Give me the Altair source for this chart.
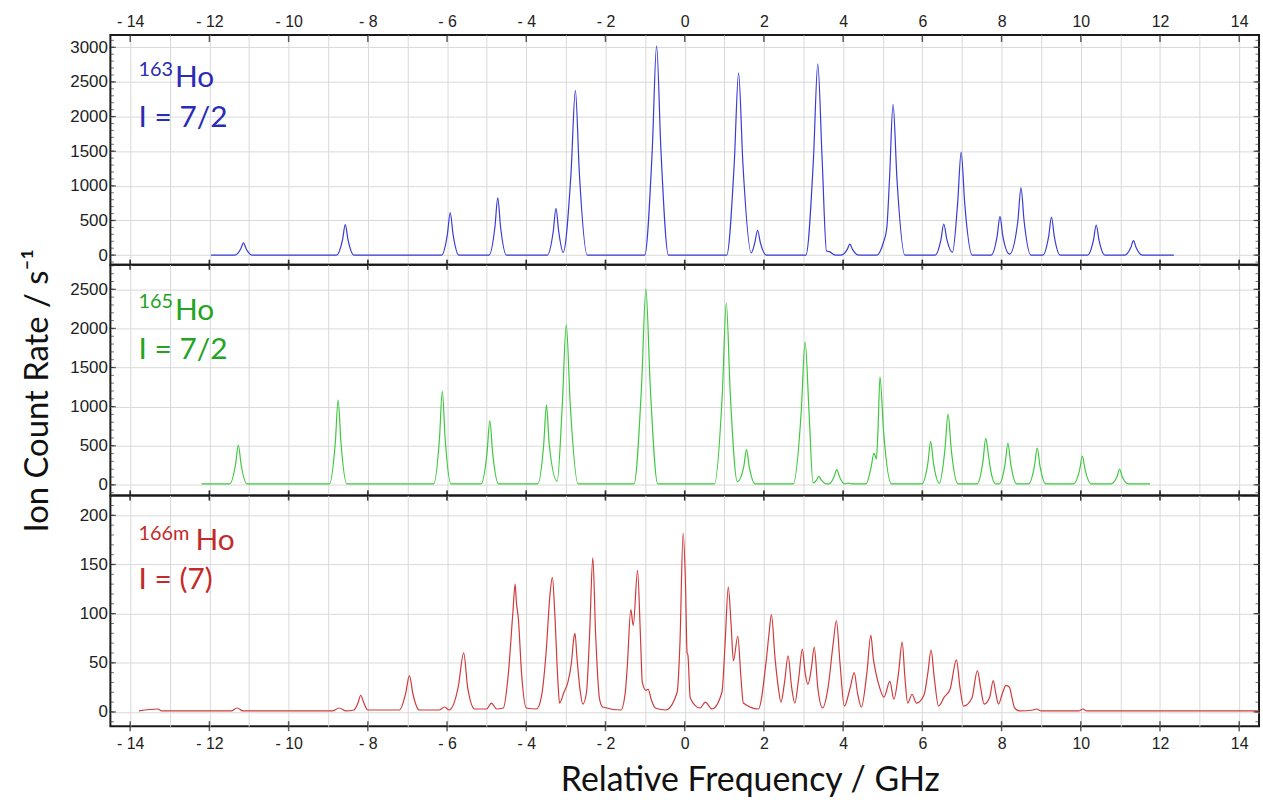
import altair as alt
import pandas as pd

# ---------------- data ----------------
# 163Ho trace vertices (GHz, ions/s)
x163 = [-11.96,
        -11.36, -11.21, -11.14, -11.07, -10.92,
        -8.79, -8.64, -8.57, -8.50, -8.35,
        -6.14, -5.99, -5.92, -5.85, -5.70,
        -4.94, -4.79, -4.72, -4.65, -4.50,
        -3.47, -3.32, -3.25, -3.18, -3.07, -2.87, -2.76, -2.66, -2.46,
        -1.01, -0.82, -0.71, -0.60, -0.41,
        1.06, 1.25, 1.36, 1.47, 1.68, 1.77, 1.84, 1.91, 2.06,
        3.06, 3.25, 3.36, 3.47, 3.58, 3.65, 3.80,
        3.95, 4.10, 4.17, 4.24, 4.39,
        4.85, 5.02, 5.10, 5.17, 5.26, 5.36, 5.56,
        6.32, 6.47, 6.54, 6.62, 6.76, 6.89, 6.98, 7.07, 7.26,
        7.74, 7.89, 7.96, 8.03, 8.20, 8.41, 8.49, 8.57, 8.74,
        9.04, 9.19, 9.26, 9.33, 9.48,
        10.17, 10.32, 10.39, 10.46, 10.61,
        11.11, 11.26, 11.33, 11.40, 11.55,
        12.35]
y163 = [0,
        0, 88, 177, 88, 0,
        0, 220, 440, 220, 0,
        0, 308, 615, 308, 0,
        0, 413, 826, 413, 0,
        0, 337, 674, 337, 40, 1188, 2377, 1188, 0,
        0, 1511, 3022, 1511, 0,
        0, 1315, 2630, 1315, 33, 180, 359, 180, 0,
        0, 1380, 2760, 1380, 60, 50, 0,
        0, 79, 158, 79, 0,
        0, 190, 380, 1088, 2175, 1088, 0,
        0, 225, 449, 225, 40, 744, 1487, 744, 0,
        0, 280, 560, 280, 15, 485, 970, 485, 0,
        0, 275, 550, 275, 0,
        0, 218, 435, 218, 0,
        0, 105, 210, 105, 0,
        0]

# 165Ho trace vertices
x165 = [-12.20,
        -11.49, -11.34, -11.27, -11.20, -11.05,
        -8.97, -8.82, -8.75, -8.68, -8.53,
        -6.34, -6.19, -6.12, -6.05, -5.90,
        -5.14, -4.99, -4.92, -4.85, -4.70,
        -3.71, -3.56, -3.49, -3.42, -3.22, -3.09, -2.99, -2.89, -2.69,
        -1.28, -1.09, -0.98, -0.87, -0.68,
        0.75, 0.95, 1.05, 1.15, 1.33, 1.49, 1.56, 1.63, 1.78,
        2.74, 2.94, 3.04, 3.14, 3.24, 3.33, 3.38, 3.45, 3.58,
        3.64, 3.77, 3.84, 3.91, 4.04, 4.13, 4.22,
        4.58, 4.70, 4.78, 4.84, 4.88, 4.93, 5.02, 5.22,
        5.99, 6.14, 6.21, 6.28, 6.43, 6.57, 6.65, 6.73, 6.90,
        7.38, 7.53, 7.60, 7.66, 7.72, 7.85,
        7.94, 8.09, 8.16, 8.23, 8.38,
        8.68, 8.83, 8.90, 8.97, 9.12,
        9.82, 9.97, 10.04, 10.11, 10.26,
        10.76, 10.91, 10.98, 11.05, 11.20,
        11.75]
y165 = [12,
        12, 260, 509, 260, 12,
        12, 550, 1085, 550, 12,
        12, 606, 1200, 606, 12,
        12, 415, 818, 415, 12,
        12, 515, 1018, 515, 45, 1030, 2048, 1030, 12,
        12, 1260, 2506, 1260, 12,
        12, 1170, 2323, 1170, 40, 230, 449, 230, 12,
        12, 920, 1827, 920, 25, 60, 110, 60, 12,
        12, 100, 195, 100, 12, 22, 12,
        12, 210, 402, 330, 700, 1381, 690, 12,
        12, 280, 555, 280, 20, 450, 903, 450, 12,
        12, 300, 593, 415, 200, 12,
        12, 270, 534, 270, 12,
        12, 240, 470, 240, 12,
        12, 190, 369, 190, 12,
        12, 100, 199, 100, 12,
        12]

# 166mHo trace vertices
x166 = [-13.78, -13.30, -13.20, -11.45, -11.30, -11.15, -8.90, -8.72, -8.55,
        -8.35, -8.25, -8.18, -8.10, -8.00,
        -7.20, -7.05, -6.95, -6.86, -6.70,
        -6.20, -6.06, -5.95, -5.72, -5.58, -5.48, -5.30,
        -5.00, -4.88, -4.75,
        -4.58, -4.45, -4.34, -4.28, -4.25, -4.20, -4.12, -4.00,
        -3.74, -3.62, -3.50, -3.40, -3.34, -3.28, -3.20, -3.16,
        -3.05, -2.95, -2.86, -2.80, -2.77, -2.72, -2.65, -2.57,
        -2.48, -2.40, -2.32, -2.25, -2.15, -2.07,
        -1.61, -1.50, -1.45, -1.36, -1.30, -1.19, -1.12, -1.07, -0.98, -0.92, -0.84, -0.74,
        -0.48, -0.19, -0.12, -0.04, 0.02, 0.06, 0.08, 0.14,
        0.39, 0.52, 0.69,
        0.94, 1.02, 1.10, 1.17, 1.23, 1.34, 1.42, 1.48,
        1.86, 2.06, 2.13, 2.19, 2.28, 2.36, 2.43,
        2.52, 2.61, 2.70, 2.78, 2.88, 2.97, 3.04, 3.11, 3.20, 3.27, 3.36, 3.48,
        3.62, 3.75, 3.83, 3.92, 4.03,
        4.18, 4.28, 4.36, 4.46,
        4.60, 4.70, 4.76, 4.82, 4.92, 5.03,
        5.18, 5.28, 5.40, 5.49, 5.56, 5.63, 5.74, 5.85,
        6.04, 6.14, 6.22, 6.30, 6.41,
        6.55, 6.70, 6.86, 6.95, 7.04,
        7.25, 7.39, 7.47, 7.56,
        7.70, 7.79, 7.85, 7.92,
        8.03, 8.11, 8.20, 8.26, 8.33, 8.46,
        8.80, 8.88, 9.00, 9.95, 10.05, 10.15, 14.50]
y166 = [1, 3, 1, 1, 4, 1, 1, 4, 1,
        2, 9, 17, 9, 2,
        2, 18, 37, 18, 2,
        2, 5, 2, 25, 60, 25, 3,
        3, 9, 3,
        4, 40, 100, 130, 112, 95, 40, 4,
        3, 15, 60, 120, 137, 100, 30, 9,
        20, 30, 50, 75, 80, 55, 25, 8,
        20, 80, 157, 80, 13, 5,
        2, 20, 46, 104, 88, 144, 80, 30, 22, 23, 12, 4,
        2, 20, 70, 182, 130, 60, 58, 14,
        4, 10, 3,
        20, 70, 127, 90, 52, 77, 35, 9,
        3, 53, 80, 99, 55, 26, 10,
        30, 57, 25, 9, 35, 64, 40, 28, 45, 66, 25, 4,
        25, 70, 93, 50, 6,
        25, 40, 20, 5,
        40, 78, 55, 41, 25, 15,
        31, 13, 40, 71, 35, 9, 18, 9,
        17, 40, 63, 35, 6,
        15, 23, 53, 25, 6,
        14, 42, 25, 8,
        15, 32, 20, 8,
        20, 27, 25, 15, 4, 1,
        2, 3, 1, 1, 3, 1, 1]

# axis values / tick labels
x_grid = list(range(-14, 15))
x_major = list(range(-14, 15, 2))
y163_major = [0, 500, 1000, 1500, 2000, 2500, 3000]
y165_major = [0, 500, 1000, 1500, 2000, 2500]
y166_major = [0, 50, 100, 150, 200]
y163_minor = list(range(-100, 3101, 100))
y165_minor = list(range(-100, 2801, 100))
y166_minor = list(range(-10, 221, 10))

# annotation texts: (text, GHz, count, font size)
ann163 = [("163", -13.79, 2592, 20), ("Ho", -12.87, 2430, 30), ("I = 7/2", -13.79, 1851, 30)]
ann165 = [("165", -13.79, 2259, 20), ("Ho", -12.87, 2112, 30), ("I = 7/2", -13.79, 1603, 30)]
ann166 = [("166m", -13.79, 175.4, 20), ("Ho", -12.35, 164.6, 30), ("I = (7)", -13.79, 124.8, 30)]

assert len(x163) == len(y163) and len(x165) == len(y165) and len(x166) == len(y166)

# ---------------- chart ----------------
W = 1155
XDOM = [-14.5, 14.5]
LABEL_EXPR = ("datum.value % 2 != 0 ? '' : (datum.value < 0 ? '- ' + abs(datum.value) : '' + datum.value)")
TICK_COLOR = "#1e1e1e"


def make_x(orient, title=None):
    scale = alt.Scale(domain=XDOM, nice=False, zero=False)
    if orient is None:
        axis = alt.Axis(values=x_grid, labels=False, ticks=False, domain=False,
                        grid=True, title=None)
    else:
        kw = dict(orient=orient, values=x_grid, labelExpr=LABEL_EXPR, labelOverlap=False,
                  ticks=False, domain=False, grid=True, labelFontSize=16,
                  labelPadding=9 if orient == "bottom" else 6)
        if title:
            kw.update(title=title, titleFontSize=34, titleFont="Lato",
                      titleFontWeight="normal", titleColor="#111",
                      titleX=643, titleY=65, titleAlign="center",
                      titleBaseline="alphabetic")
        else:
            kw.update(title=None)
        axis = alt.Axis(**kw)
    return alt.X("f:Q", scale=scale, axis=axis)


def make_y(dom, major, title=None):
    kw = dict(values=major, grid=True, ticks=False, domain=False, labelFontSize=17,
              labelPadding=3, format="d")
    if title:
        kw.update(title=title, titleFontSize=33, titlePadding=15, titleFont="Lato",
                  titleFontWeight="normal", titleColor="#111", titleY=126,
                  titleAlign="center")
    else:
        kw.update(title=None)
    return alt.Y("v:Q", scale=alt.Scale(domain=dom, nice=False, zero=False),
                 axis=alt.Axis(**kw))


def panel(xs, ys, line_color, text_color, ydom, major, minor, ann, height,
          x_orient, x_title=None, y_title=None, top_edge="cross"):
    X = make_x(x_orient, x_title)
    Y = make_y(ydom, major, y_title)
    df = pd.DataFrame({"f": xs, "v": ys})
    layers = [alt.Chart(df).mark_line(color=line_color, strokeWidth=1.2,
                                      interpolate="monotone").encode(x=X, y=Y)]
    for t, f, v, size in ann:
        layers.append(
            alt.Chart(pd.DataFrame({"f": [f], "v": [v], "t": [t]}))
            .mark_text(align="left", baseline="alphabetic", font="Lato",
                       fontSize=size, color=text_color)
            .encode(x=X, y=Y, text="t:N"))
    xt = pd.DataFrame({"f": x_major})
    # x ticks on top edge
    if top_edge == "inside":
        layers.append(alt.Chart(xt).mark_tick(orient="vertical", size=7, thickness=1.5,
                                              color=TICK_COLOR)
                      .encode(x=X, y=alt.value(3.5)))
    else:
        layers.append(alt.Chart(xt).mark_tick(orient="vertical", size=10, thickness=1.5,
                                              color=TICK_COLOR)
                      .encode(x=X, y=alt.value(0)))
    layers.append(alt.Chart(xt).mark_tick(orient="vertical", size=10, thickness=1.5,
                                          color=TICK_COLOR)
                  .encode(x=X, y=alt.value(height)))
    # y ticks (inside, left and right)
    ymin_df = pd.DataFrame({"v": minor})
    ymaj_df = pd.DataFrame({"v": major})
    for xpos in (1.5, W - 1.5):
        layers.append(alt.Chart(ymin_df).mark_tick(orient="horizontal", size=4, thickness=1,
                                                   color="#333")
                      .encode(y=Y, x=alt.value(xpos)))
    for xpos in (2.5, W - 2.5):
        layers.append(alt.Chart(ymaj_df).mark_tick(orient="horizontal", size=6, thickness=1.3,
                                                   color="#222")
                      .encode(y=Y, x=alt.value(xpos)))
    return alt.layer(*layers).properties(width=W, height=height)


top = panel(x163, y163, "#3a3ad6", "#2b2bb5", [-139, 3177], y163_major, y163_minor,
            ann163, 231, "top", top_edge="inside")
mid = panel(x165, y165, "#3fc83f", "#25a325", [-136, 2814], y165_major, y165_minor,
            ann165, 232, None, y_title="Ion Count Rate / s\u207b\u00b9")
bot = panel(x166, y166, "#d03a3a", "#c42a2a", [-14.5, 220.2], y166_major, y166_minor,
            ann166, 232, "bottom", x_title="Relative Frequency / GHz")

chart = (
    alt.vconcat(top, mid, bot, spacing=0, bounds="flush")
    .properties(padding={"left": 21, "top": 10, "right": 0, "bottom": 0},
                background="white")
    .configure_view(stroke="#1a1a1a", strokeWidth=2)
    .configure_axis(labelFont="Liberation Sans", labelColor="#222",
                    gridColor="#d9d9d9", gridWidth=1)
)

chart.save("out.html", embed_options={"renderer": "svg", "actions": False})
